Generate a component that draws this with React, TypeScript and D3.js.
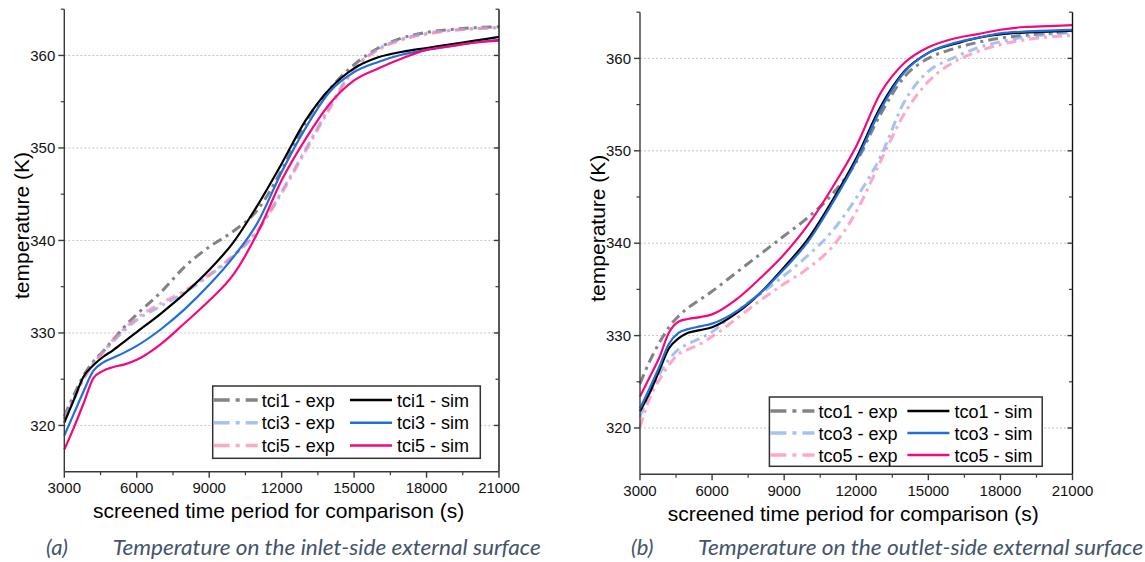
import React from "react";
import * as d3 from "d3";

// ---------- data ----------
const times = [3000, 3400, 3800, 4200, 4600, 5000, 5500, 6000, 7000, 8000, 9000, 10000, 11000, 12000, 13000, 14000, 15000, 16000, 17000, 18000, 19000, 20000, 21000];

const xTicks = [3000, 6000, 9000, 12000, 15000, 18000, 21000];
const xMinorTicks = [4500, 7500, 10500, 13500, 16500, 19500];
const yTicks = [320, 330, 340, 350, 360];
const yMinorTicks = [325, 335, 345, 355, 365];

// panel (a) inlet side
const tci1Exp = [321.0, 323.3, 325.4, 326.9, 328.0, 329.2, 330.7, 332.0, 334.4, 337.2, 339.3, 341.0, 343.3, 347.6, 352.8, 356.4, 359.0, 360.8, 361.9, 362.5, 362.8, 363.0, 363.1];
const tci3Exp = [320.8, 323.0, 325.1, 326.7, 327.9, 329.0, 330.3, 331.4, 332.9, 334.4, 336.2, 338.3, 341.0, 345.3, 349.9, 354.5, 358.6, 360.7, 361.8, 362.4, 362.7, 362.9, 363.0];
const tci5Exp = [320.6, 322.8, 325.0, 326.6, 327.9, 329.2, 330.5, 331.6, 333.2, 334.6, 336.3, 338.4, 341.1, 345.1, 349.7, 354.3, 358.5, 360.6, 361.7, 362.3, 362.7, 362.9, 363.0];
const tci1Sim = [320.3, 322.8, 325.3, 326.5, 327.4, 328.1, 329.1, 330.1, 332.1, 334.3, 336.8, 339.8, 343.8, 348.3, 353.0, 356.4, 358.6, 359.8, 360.4, 360.8, 361.2, 361.6, 362.0];
const tci3Sim = [318.9, 321.3, 323.7, 325.9, 326.8, 327.3, 327.9, 328.6, 330.4, 332.6, 335.2, 338.2, 341.9, 347.4, 352.2, 356.1, 358.2, 359.3, 360.1, 360.6, 361.0, 361.4, 361.7];
const tci5Sim = [317.4, 319.8, 322.4, 325.1, 325.9, 326.3, 326.6, 327.1, 328.8, 331.1, 333.5, 336.3, 340.8, 346.5, 351.0, 354.8, 357.3, 358.6, 359.7, 360.6, 361.0, 361.4, 361.6];

// panel (b) outlet side
const tco1Exp = [324.8, 327.2, 329.2, 330.9, 332.1, 333.0, 333.9, 334.8, 336.8, 338.8, 340.8, 342.8, 345.3, 348.8, 353.9, 358.0, 360.0, 361.0, 361.7, 362.2, 362.5, 362.7, 362.9];
const tco3Exp = [321.2, 323.8, 325.8, 327.4, 328.5, 329.1, 329.7, 330.4, 332.6, 334.5, 336.5, 338.7, 341.3, 344.9, 349.3, 355.3, 358.6, 360.0, 361.1, 361.8, 362.3, 362.6, 362.8];
const tco5Exp = [320.1, 323.2, 325.2, 326.8, 328.0, 328.5, 329.1, 329.9, 331.8, 333.8, 335.6, 337.3, 339.6, 343.4, 348.8, 354.0, 357.5, 359.5, 360.7, 361.5, 362.0, 362.3, 362.5];
const tco1Sim = [321.8, 323.8, 326.2, 328.6, 329.7, 330.3, 330.6, 330.9, 332.4, 334.6, 337.4, 340.5, 344.6, 349.2, 354.7, 358.6, 360.6, 361.5, 362.2, 362.6, 362.8, 362.9, 363.0];
const tco3Sim = [322.1, 324.3, 326.6, 329.1, 330.3, 330.7, 331.0, 331.3, 332.6, 334.6, 337.2, 340.2, 344.3, 348.9, 354.4, 358.5, 360.6, 361.6, 362.2, 362.7, 362.9, 363.0, 363.1];
const tco5Sim = [323.4, 325.5, 327.6, 330.3, 331.5, 331.8, 332.0, 332.3, 333.9, 336.2, 338.8, 342.0, 346.0, 350.5, 356.2, 359.5, 361.2, 362.1, 362.6, 363.1, 363.4, 363.5, 363.6];

const seriesNamesA = ["tci1 - exp", "tci3 - exp", "tci5 - exp", "tci1 - sim", "tci3 - sim", "tci5 - sim"];
const seriesNamesB = ["tco1 - exp", "tco3 - exp", "tco5 - exp", "tco1 - sim", "tco3 - sim", "tco5 - sim"];

const captionA = ["(a)", "Temperature on the inlet-side external surface"];
const captionB = ["(b)", "Temperature on the outlet-side external surface"];
const xTitle = "screened time period for comparison (s)";
const yTitle = "temperature (K)";

// ---------- styles ----------
const EXP_COLORS = ["rgba(100,100,100,0.8)", "rgba(125,170,240,0.7)", "rgba(255,130,175,0.7)"];
const SIM_COLORS = ["#000000", "#1f6fdc", "#f5087c"];
const FONT = "'Liberation Sans', Arial, sans-serif";
const CAPFONT = "Lato, 'Open Sans', sans-serif";
const AXIS = "#3a3a3a";

type PanelProps = {
  x0: number; x1: number; yTop: number; yBot: number;
  exp: number[][]; sim: number[][]; names: string[];
  legend: { x: number; y: number; w: number; h: number; rowH: number; col2: number };
  caption: string[]; capX: number; capTextX: number; capLen: number;
};

const Panel: React.FC<PanelProps> = (p) => {
  const x = d3.scaleLinear().domain([3000, 21000]).range([p.x0, p.x1]);
  const y = d3.scaleLinear().domain([315, 365]).range([p.yBot, p.yTop]);
  const line = (vals: number[]) =>
    d3.line<number>()
      .x((_, i) => x(times[i]))
      .y((d) => y(d))
      .curve(d3.curveMonotoneX)(vals) || "";

  const L = p.legend;
  const rows = [0, 1, 2];
  return (
    <g>
      {yTicks.map((t) => (
        <line key={"g" + t} x1={p.x0} x2={p.x1} y1={y(t)} y2={y(t)} stroke="#b8b8b8" strokeWidth={0.8} strokeDasharray="2,2" />
      ))}
      {p.exp.map((vals, i) => (
        <path key={"e" + i} d={line(vals)} fill="none" stroke={EXP_COLORS[i]} strokeWidth={3} strokeDasharray="10,5,3,5" />
      ))}
      {p.sim.map((vals, i) => (
        <path key={"s" + i} d={line(vals)} fill="none" stroke={SIM_COLORS[i]} strokeWidth={2.2} />
      ))}
      <line x1={p.x0} x2={p.x0} y1={p.yTop} y2={p.yBot} stroke={AXIS} strokeWidth={1.4} />
      <line x1={p.x1} x2={p.x1} y1={p.yTop} y2={p.yBot} stroke="#111" strokeWidth={1.4} />
      <line x1={p.x0} x2={p.x1} y1={p.yBot} y2={p.yBot} stroke={AXIS} strokeWidth={1.4} />
      {yTicks.map((t) => (
        <g key={"yt" + t}>
          <line x1={p.x0 - 6} x2={p.x0} y1={y(t)} y2={y(t)} stroke={AXIS} strokeWidth={1.4} />
          <line x1={p.x1 - 5} x2={p.x1} y1={y(t)} y2={y(t)} stroke={AXIS} strokeWidth={1.4} />
          <text x={p.x0 - 9} y={y(t) + 5.2} textAnchor="end" fontFamily={FONT} fontSize={15} fill="#111">{t}</text>
        </g>
      ))}
      {yMinorTicks.map((t) => (
        <g key={"ym" + t}>
          <line x1={p.x0 - 3.5} x2={p.x0} y1={y(t)} y2={y(t)} stroke={AXIS} strokeWidth={1.2} />
          <line x1={p.x1 - 3.5} x2={p.x1} y1={y(t)} y2={y(t)} stroke={AXIS} strokeWidth={1.2} />
        </g>
      ))}
      {xTicks.map((t) => (
        <g key={"xt" + t}>
          <line x1={x(t)} x2={x(t)} y1={p.yBot} y2={p.yBot + 6} stroke={AXIS} strokeWidth={1.4} />
          <text x={x(t)} y={p.yBot + 21.5} textAnchor="middle" fontFamily={FONT} fontSize={15} fill="#111">{t}</text>
        </g>
      ))}
      {xMinorTicks.map((t) => (
        <line key={"xm" + t} x1={x(t)} x2={x(t)} y1={p.yBot} y2={p.yBot + 3.5} stroke={AXIS} strokeWidth={1.2} />
      ))}
      <text x={(p.x0 + p.x1) / 2 - 3} y={p.yBot + 46.5} textAnchor="middle" fontFamily={FONT} fontSize={21} fill="#000">{xTitle}</text>
      <text transform={`translate(${p.x0 - 35},${(p.yTop + p.yBot) / 2 - 15}) rotate(-90)`} textAnchor="middle" fontFamily={FONT} fontSize={21} fill="#000">{yTitle}</text>
      <rect x={L.x} y={L.y} width={L.w} height={L.h} fill="#fff" stroke="#333" strokeWidth={1.5} />
      {rows.map((r) => {
        const cy = L.y + 14 + r * L.rowH;
        return (
          <g key={"lg" + r}>
            <line x1={L.x + 1} x2={L.x + 45} y1={cy} y2={cy} stroke={EXP_COLORS[r]} strokeWidth={3.5} strokeDasharray="16,6,4,6" />
            <text x={L.x + 49} y={cy + 6.5} fontFamily={FONT} fontSize={18} fill="#000">{p.names[r]}</text>
            <line x1={L.x + L.col2} x2={L.x + L.col2 + 42} y1={cy} y2={cy} stroke={SIM_COLORS[r]} strokeWidth={2.5} />
            <text x={L.x + L.col2 + 47} y={cy + 6.5} fontFamily={FONT} fontSize={18} fill="#000">{p.names[r + 3]}</text>
          </g>
        );
      })}
      <text x={p.capX} y={555} fontFamily={CAPFONT} fontStyle="italic" fontSize={22} fill="#44546a">{p.caption[0]}</text>
      <text x={p.capTextX} y={555} fontFamily={CAPFONT} fontStyle="italic" fontSize={20.5} fill="#44546a" textLength={p.capLen} lengthAdjust="spacingAndGlyphs">{p.caption[1]}</text>
    </g>
  );
};

export default function App() {
  return (
    <div style={{ position: "fixed", left: 0, top: 0, width: 1145, height: 562, background: "#fff" }}>
      <svg width={1145} height={562} viewBox="0 0 1145 562">
        <rect x={0} y={0} width={1145} height={562} fill="#fff" />
        <Panel
          x0={64.3} x1={499} yTop={9.2} yBot={471.7}
          exp={[tci1Exp, tci3Exp, tci5Exp]} sim={[tci1Sim, tci3Sim, tci5Sim]} names={seriesNamesA}
          legend={{ x: 212.7, y: 386, w: 267.6, h: 72.3, rowH: 22.8, col2: 137.3 }}
          caption={captionA} capX={46} capTextX={112.7} capLen={428}
        />
        <Panel
          x0={640} x1={1072.5} yTop={12.2} yBot={474.2}
          exp={[tco1Exp, tco3Exp, tco5Exp]} sim={[tco1Sim, tco3Sim, tco5Sim]} names={seriesNamesB}
          legend={{ x: 769.4, y: 397, w: 272.8, h: 69.3, rowH: 22, col2: 138 }}
          caption={captionB} capX={631} capTextX={698} capLen={445}
        />
      </svg>
    </div>
  );
}
